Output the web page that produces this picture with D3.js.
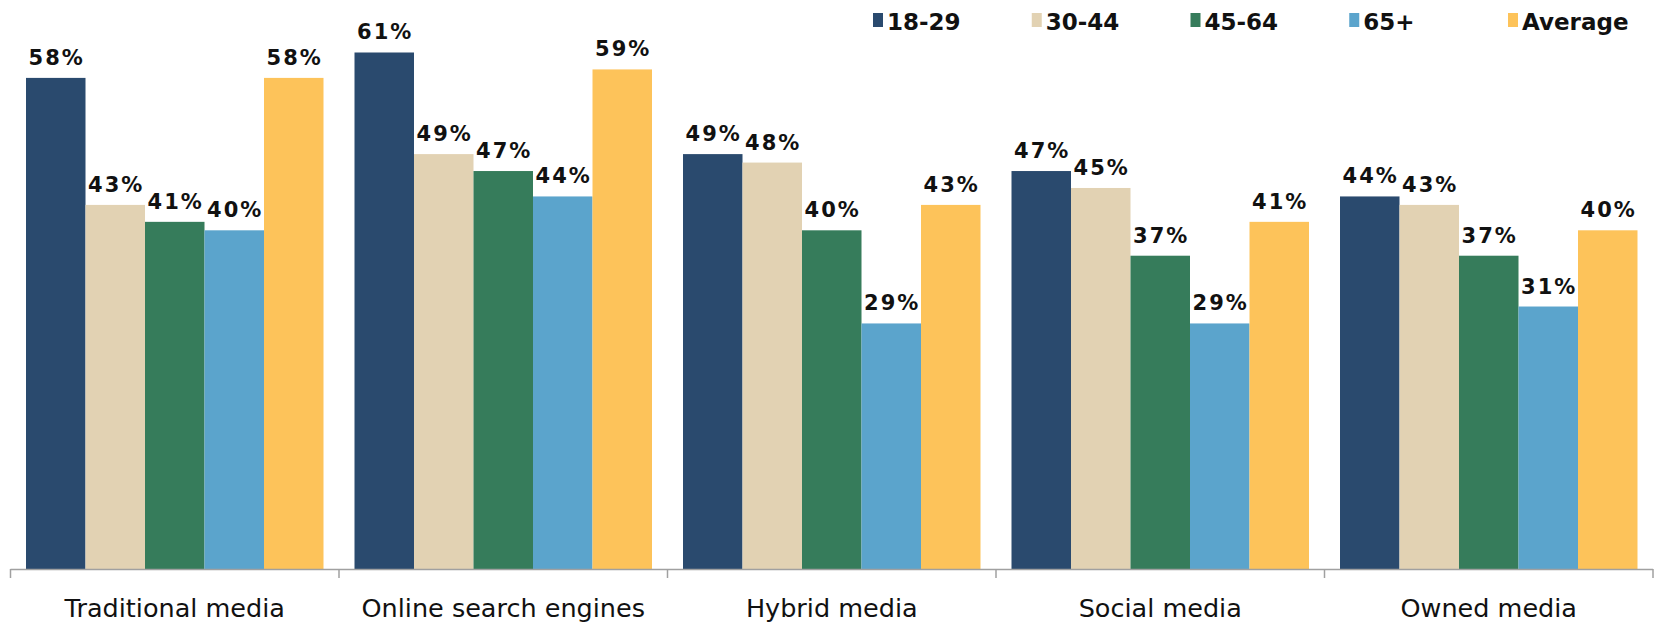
<!DOCTYPE html>
<html>
<head>
<meta charset="utf-8">
<script src="https://cdn.jsdelivr.net/npm/d3@7"></script>
<style>
  body { margin: 0; background: #fff; }
  svg { display: block; }
</style>
</head>
<body>
<svg id="chart" width="1665" height="624"></svg>
<script>
const categories = ['Traditional media', 'Online search engines', 'Hybrid media', 'Social media', 'Owned media']
const seriesNames = ['18-29', '30-44', '45-64', '65+', 'Average']
const age18_29 = [58, 61, 49, 47, 44]
const age30_44 = [43, 49, 48, 45, 43]
const age45_64 = [41, 47, 40, 37, 37]
const age65plus = [40, 44, 29, 29, 31]
const average = [58, 59, 43, 41, 40]
const seriesValues = [age18_29, age30_44, age45_64, age65plus, average]
const colors = ['#2a4a6e', '#e2d2b3', '#367c5b', '#5ba4cc', '#fdc35a']

const baseY = 569
const svg = d3.select('#chart')
const font = 'DejaVu Sans, Verdana, sans-serif'

// category scale across the axis
const x0 = d3.scaleBand()
    .domain(categories)
    .range([10.5, 1653])
    .padding(0)

// bars inside one category
const x1 = d3.scaleBand()
    .domain(seriesNames)
    .range([15.5, x0.bandwidth() - 15.5])
    .padding(0)

const y = d3.scaleLinear()
    .domain([0, 67.2])
    .range([baseY, 0])

const color = d3.scaleOrdinal().domain(seriesNames).range(colors)

const rows = categories.map((c, i) => ({
    category: c,
    values: seriesNames.map((s, j) => ({ series: s, value: seriesValues[j][i] }))
}))

const groups = svg.append('g')
    .selectAll('g')
    .data(rows)
    .join('g')
    .attr('transform', d => `translate(${x0(d.category)},0)`)

groups.selectAll('rect')
    .data(d => d.values)
    .join('rect')
    .attr('x', d => x1(d.series))
    .attr('y', d => y(d.value))
    .attr('width', x1.bandwidth())
    .attr('height', d => baseY - y(d.value))
    .attr('fill', d => color(d.series))

groups.selectAll('text')
    .data(d => d.values)
    .join('text')
    .attr('x', d => x1(d.series) + x1.bandwidth() / 2 + 1)
    .attr('y', d => y(d.value) - 13)
    .attr('text-anchor', 'middle')
    .attr('font-family', font)
    .attr('font-weight', 'bold')
    .attr('font-size', '21px')
    .attr('letter-spacing', '2px')
    .attr('fill', '#111')
    .text(d => d.value + '%')

// x axis: line with ticks at the category borders
const axis = svg.append('g')
axis.append('line')
    .attr('x1', x0.range()[0]).attr('x2', x0.range()[1])
    .attr('y1', baseY + 0.5).attr('y2', baseY + 0.5)
    .attr('stroke', '#a0a0a0').attr('stroke-width', 1.5)

const borders = categories.map(c => x0(c)).concat([x0.range()[1]])
axis.selectAll('.tick')
    .data(borders)
    .join('line')
    .attr('class', 'tick')
    .attr('x1', d => d).attr('x2', d => d)
    .attr('y1', baseY).attr('y2', baseY + 9)
    .attr('stroke', '#a0a0a0').attr('stroke-width', 1.5)

axis.selectAll('.cat')
    .data(categories)
    .join('text')
    .attr('class', 'cat')
    .attr('x', d => x0(d) + x0.bandwidth() / 2)
    .attr('y', 617)
    .attr('text-anchor', 'middle')
    .attr('font-family', font)
    .attr('font-size', '25.5px')
    .attr('fill', '#111')
    .text(d => d)

// legend
const legendX = d3.scalePoint()
    .domain(seriesNames)
    .range([873, 1508])

const legend = svg.append('g')
    .selectAll('g')
    .data(seriesNames)
    .join('g')
    .attr('transform', d => `translate(${legendX(d)},0)`)

legend.append('rect')
    .attr('x', 0).attr('y', 13)
    .attr('width', 10).attr('height', 14)
    .attr('fill', d => color(d))

legend.append('text')
    .attr('x', 14).attr('y', 30)
    .attr('font-family', font)
    .attr('font-weight', 'bold')
    .attr('font-size', '23px')
    .attr('fill', '#111')
    .text(d => d)
</script>
</body>
</html>
